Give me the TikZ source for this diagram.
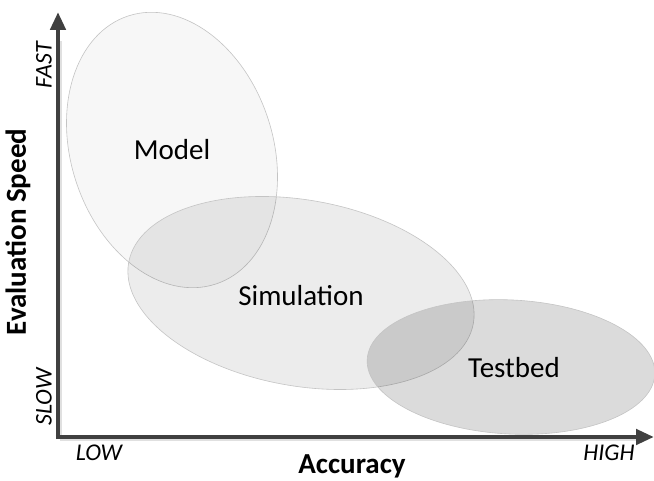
\documentclass[tikz,border=0pt]{standalone}
\usepackage{fontspec}
\setmainfont{Carlito}
\usetikzlibrary{shapes.geometric,arrows.meta}
\definecolor{axisgray}{HTML}{404040}
\definecolor{edgegray}{HTML}{C4C4C4}
\tikzset{
  blob/.style={ellipse, draw=edgegray, line width=0.6pt, fill=black, inner sep=0pt},
  biglabel/.style={font=\fontsize{29}{34}\selectfont, text=black},
  axlabel/.style={font=\fontsize{29}{34}\selectfont\bfseries, text=black},
  endlabel/.style={font=\fontsize{24}{28}\selectfont\itshape, text=black},
  axisline/.style={line width=4.5pt, draw=axisgray, -{Triangle[length=18pt,width=15pt]}},
  shadowline/.style={line width=4.5pt, draw=black!12}
}
\begin{document}
\begin{tikzpicture}[x=1pt,y=1pt]
\useasboundingbox (0,0) rectangle (654,481);
\fill[white] (0,0) rectangle (654,481);
% ellipses
\node[blob, fill opacity=0.03, minimum width=202pt, minimum height=282pt, rotate=18] (model) at (172,331) {};
\node[blob, fill opacity=0.075, minimum width=350pt, minimum height=186pt, rotate=-10] (sim) at (301,188) {};
\node[blob, fill opacity=0.14, minimum width=288pt, minimum height=134pt, rotate=-3] (test) at (511,114) {};
\node[biglabel] (tmodel) at (model.center) {Model};
\node[biglabel] (tsim) at ([yshift=-3pt]sim.center) {Simulation};
\node[biglabel] (ttest) at ([xshift=3pt,yshift=-1pt]test.center) {Testbed};
% axes
\coordinate (o) at (58,44);
\coordinate (ytip) at (58,469);
\coordinate (xtip) at (654,44);
\coordinate (os) at (60,42);
\coordinate (ys) at (60,440);
\coordinate (xs) at (640,42);
\draw[shadowline] (os) -- (ys);
\draw[shadowline] (os) -- (xs);
\draw[axisline] ([xshift=-2.25pt]o) -- (xtip);
\draw[axisline] ([yshift=-2.25pt]o) -- (ytip);
% labels
\node[axlabel, rotate=90] (ylab) at (18,249) {Evaluation Speed};
\node[axlabel] (xlab) at (352,15) {Accuracy};
\node[endlabel, rotate=90] (fast) at (44,416) {FAST};
\node[endlabel, rotate=90] (slow) at (44,84) {SLOW};
\node[endlabel] (low) at (99,28) {LOW};
\node[endlabel] (high) at (609,28) {HIGH};
\end{tikzpicture}
\end{document}
